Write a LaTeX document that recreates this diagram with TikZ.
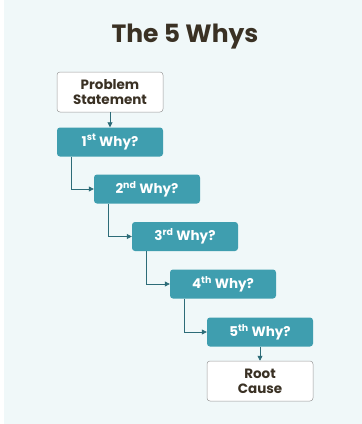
\documentclass[tikz,border=0pt]{standalone}
\usepackage{fontspec}
\setmainfont{Poppins}
\usetikzlibrary{arrows.meta}
\definecolor{bg}{HTML}{F0F8F9}
\definecolor{tealbox}{HTML}{3F9EAF}
\definecolor{arrowc}{HTML}{2D6C78}
\definecolor{titlec}{HTML}{3A3124}
\definecolor{framec}{HTML}{9A9A9A}
\begin{document}
\begin{tikzpicture}[x=1pt,y=-1pt,
  why/.style={rectangle, rounded corners=3pt, fill=tealbox, text=white,
    minimum width=106pt, minimum height=29pt, inner sep=0pt,
    font=\bfseries\fontsize{13.5}{15}\selectfont},
  endbox/.style={rectangle, rounded corners=3pt, fill=white, draw=framec, line width=0.5pt,
    minimum width=106pt, minimum height=40pt, inner sep=0pt, align=center, text=titlec,
    font=\bfseries\fontsize{13.5}{15}\selectfont},
  arr/.style={draw=arrowc, line width=0.8pt, -{Triangle[length=5pt,width=5pt]}}]
\useasboundingbox (0,0) rectangle (362,424);
\fill[bg] (0,0) rectangle (362,424);
\fill[white] (0,0) rectangle (4,424);
\node[text=titlec, font=\bfseries\fontsize{25}{30}\selectfont] (title) at (185,37) {The 5 Whys};
\node[endbox] (ps) at (110,92) {Problem\\Statement};
\node[why] (w1) at (110,142) {1\textsuperscript{st} Why?};
\node[why] (w2) at (147,189) {2\textsuperscript{nd} Why?};
\node[why] (w3) at (185,236.5) {3\textsuperscript{rd} Why?};
\node[why] (w4) at (223,284) {4\textsuperscript{th} Why?};
\node[why] (w5) at (260,332) {5\textsuperscript{th} Why?};
\node[endbox] (rc) at (260,381) {Root\\Cause};
\draw[arr] (ps) -- (w1);
\draw[arr] ([xshift=-39pt]w1.south) |- (w2.west);
\draw[arr] ([xshift=-39pt]w2.south) |- (w3.west);
\draw[arr] ([xshift=-39pt]w3.south) |- (w4.west);
\draw[arr] ([xshift=-39pt]w4.south) |- (w5.west);
\draw[arr] (w5) -- (rc);
\end{tikzpicture}
\end{document}
